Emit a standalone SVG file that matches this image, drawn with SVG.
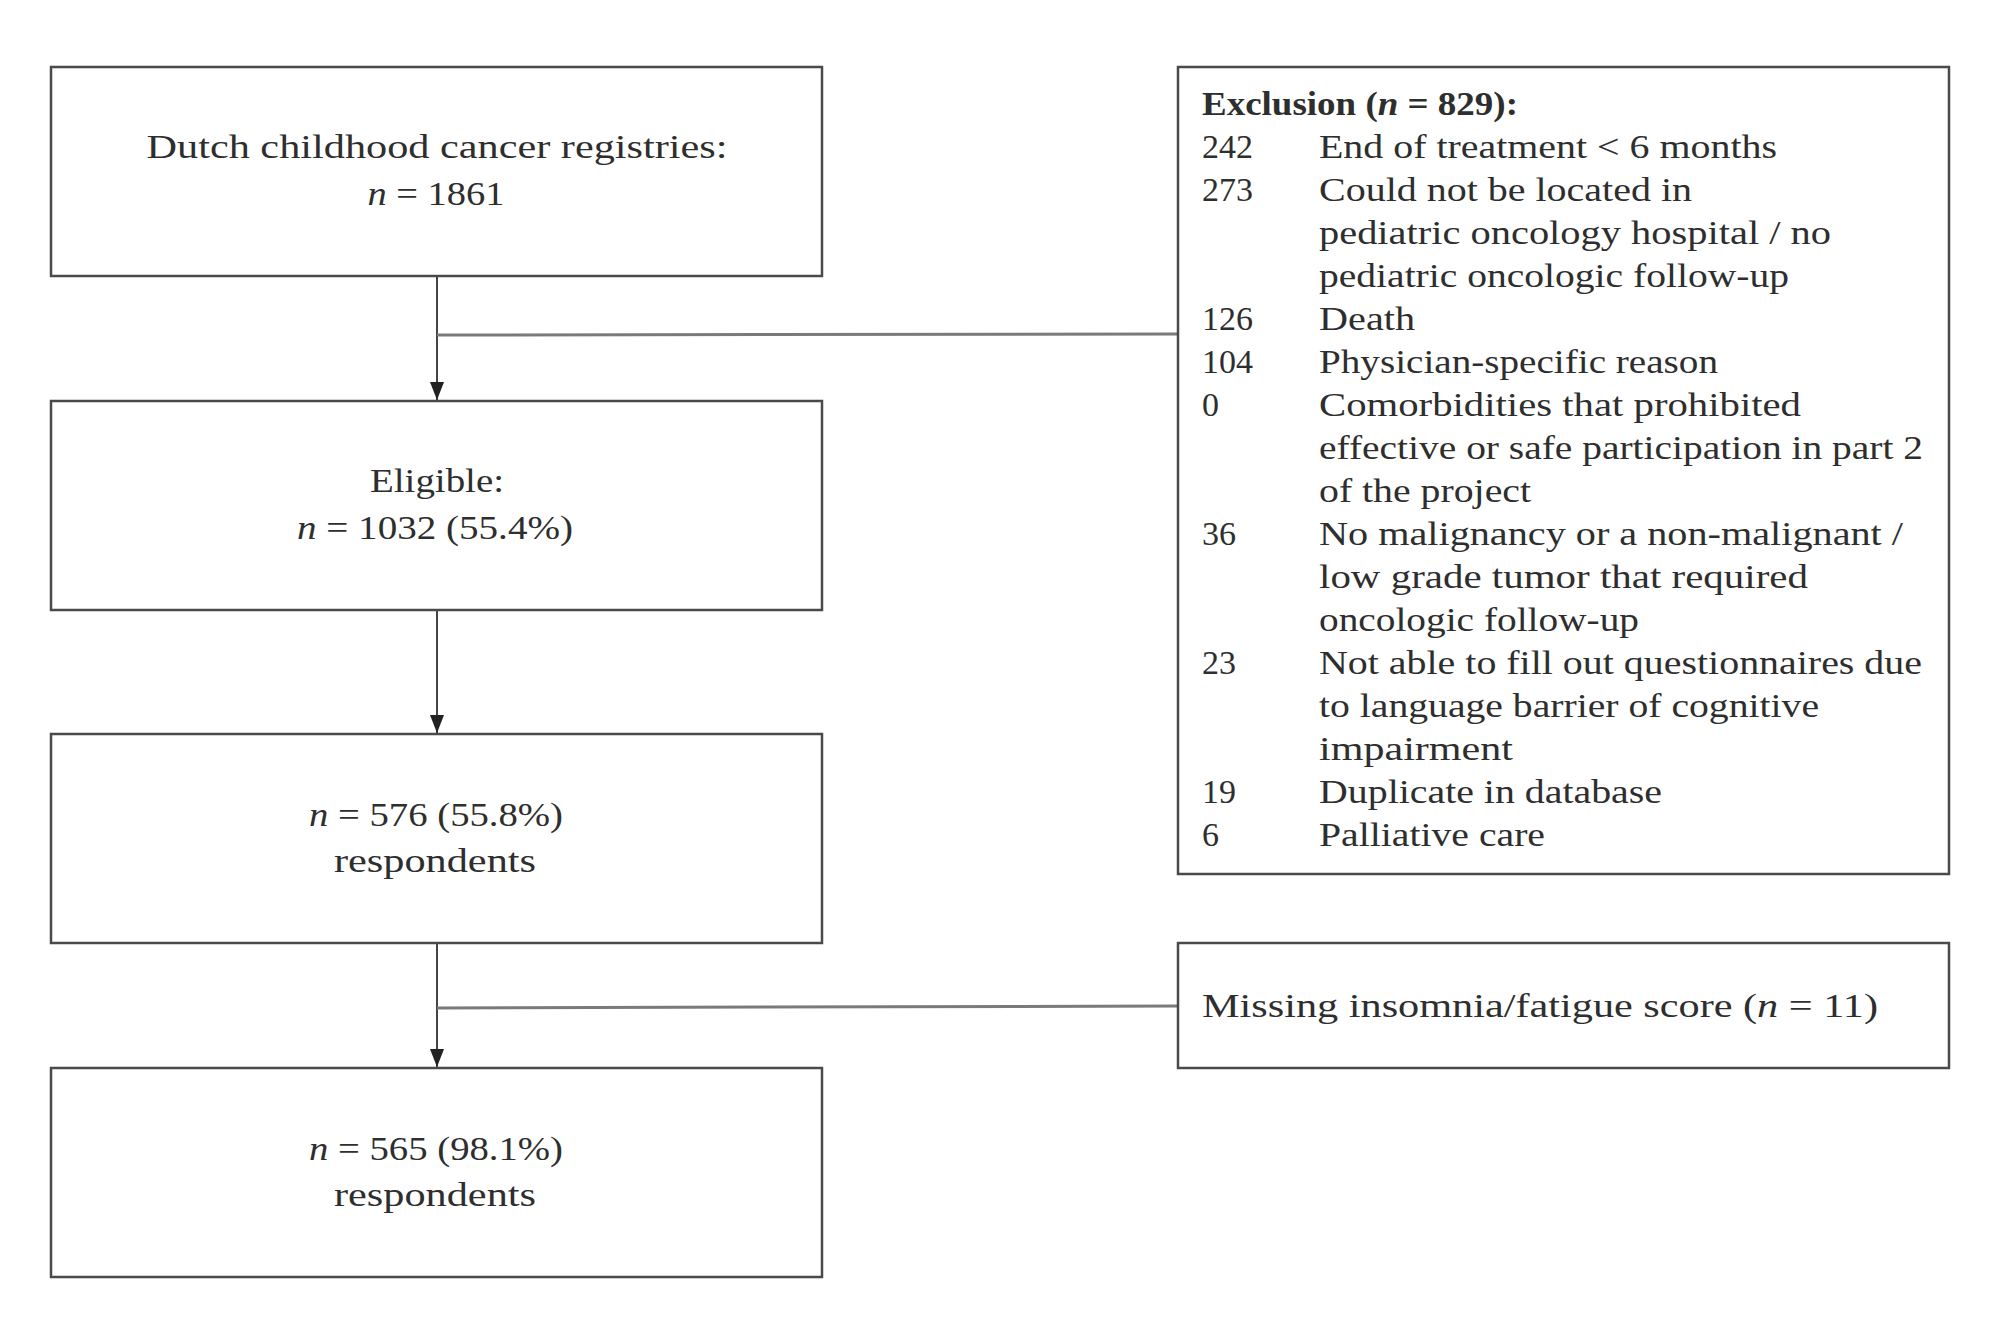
<svg xmlns="http://www.w3.org/2000/svg" width="1992" height="1329" viewBox="0 0 1992 1329">
<style>
.box{fill:#fff;stroke:#4a4a4a;stroke-width:2.5}
.t{font-family:"Liberation Serif","Times New Roman",serif;font-size:34px;fill:#2e2e2e}
.c{text-anchor:middle}
.b{font-weight:bold}
.i{font-style:italic}
.conn{stroke:#444;stroke-width:2;fill:none}
.side{stroke:#7a7a7a;stroke-width:3;fill:none}
</style>
<defs>
<marker id="ah" viewBox="0 0 18 14" refX="18" refY="7" markerWidth="18" markerHeight="14" markerUnits="userSpaceOnUse" orient="auto">
<path d="M0,0 L18,7 L0,14 z" fill="#222"/>
</marker>
</defs>
<rect width="1992" height="1329" fill="#fff"/>
<g id="connectors">
<line class="conn" x1="437" y1="276" x2="437" y2="400" marker-end="url(#ah)"/>
<line class="side" x1="437" y1="335" x2="1178" y2="334"/>
<line class="conn" x1="437" y1="610" x2="437" y2="733" marker-end="url(#ah)"/>
<line class="conn" x1="437" y1="943" x2="437" y2="1067" marker-end="url(#ah)"/>
<line class="side" x1="437" y1="1008" x2="1178" y2="1006"/>
</g>
<g id="registries">
<rect class="box" x="51" y="67" width="771" height="209"/>
<text class="t c" x="437" y="158" textLength="581" lengthAdjust="spacingAndGlyphs">Dutch childhood  cancer registries:</text>
<text class="t c" x="436" y="205" textLength="137" lengthAdjust="spacingAndGlyphs"><tspan class="i">n</tspan> = 1861</text>
</g>
<g id="eligible">
<rect class="box" x="51" y="401" width="771" height="209"/>
<text class="t c" x="437" y="492" textLength="134" lengthAdjust="spacingAndGlyphs">Eligible:</text>
<text class="t c" x="435" y="539" textLength="276" lengthAdjust="spacingAndGlyphs"><tspan class="i">n</tspan> = 1032 (55.4%)</text>
</g>
<g id="respondents576">
<rect class="box" x="51" y="734" width="771" height="209"/>
<text class="t c" x="436" y="826" textLength="254" lengthAdjust="spacingAndGlyphs"><tspan class="i">n</tspan> = 576 (55.8%)</text>
<text class="t c" x="435" y="872" textLength="202" lengthAdjust="spacingAndGlyphs">respondents</text>
</g>
<g id="respondents565">
<rect class="box" x="51" y="1068" width="771" height="209"/>
<text class="t c" x="436" y="1160" textLength="254" lengthAdjust="spacingAndGlyphs"><tspan class="i">n</tspan> = 565 (98.1%)</text>
<text class="t c" x="435" y="1206" textLength="202" lengthAdjust="spacingAndGlyphs">respondents</text>
</g>
<g id="exclusion">
<rect class="box" x="1178" y="67" width="771" height="807"/>
<text class="t b" x="1202" y="115" textLength="316" lengthAdjust="spacingAndGlyphs">Exclusion (<tspan class="i">n</tspan> = 829):</text>
<text class="t" x="1202" y="158">242</text>
<text class="t" x="1319" y="158" textLength="458" lengthAdjust="spacingAndGlyphs">End of treatment &lt; 6 months</text>
<text class="t" x="1202" y="201">273</text>
<text class="t" x="1319" y="201" textLength="373" lengthAdjust="spacingAndGlyphs">Could not be located in</text>
<text class="t" x="1319" y="244" textLength="512" lengthAdjust="spacingAndGlyphs">pediatric oncology hospital / no</text>
<text class="t" x="1319" y="287" textLength="470" lengthAdjust="spacingAndGlyphs">pediatric oncologic follow-up</text>
<text class="t" x="1202" y="330">126</text>
<text class="t" x="1319" y="330" textLength="96" lengthAdjust="spacingAndGlyphs">Death</text>
<text class="t" x="1202" y="373">104</text>
<text class="t" x="1319" y="373" textLength="399" lengthAdjust="spacingAndGlyphs">Physician-specific reason</text>
<text class="t" x="1202" y="416">0</text>
<text class="t" x="1319" y="416" textLength="482" lengthAdjust="spacingAndGlyphs">Comorbidities that prohibited</text>
<text class="t" x="1319" y="459" textLength="604" lengthAdjust="spacingAndGlyphs">effective or safe participation in part 2</text>
<text class="t" x="1319" y="502" textLength="212" lengthAdjust="spacingAndGlyphs">of the project</text>
<text class="t" x="1202" y="545">36</text>
<text class="t" x="1319" y="545" textLength="584" lengthAdjust="spacingAndGlyphs">No malignancy or a non-malignant /</text>
<text class="t" x="1319" y="588" textLength="489" lengthAdjust="spacingAndGlyphs">low grade tumor that required</text>
<text class="t" x="1319" y="631" textLength="320" lengthAdjust="spacingAndGlyphs">oncologic follow-up</text>
<text class="t" x="1202" y="674">23</text>
<text class="t" x="1319" y="674" textLength="603" lengthAdjust="spacingAndGlyphs">Not able to fill out questionnaires due</text>
<text class="t" x="1319" y="717" textLength="500" lengthAdjust="spacingAndGlyphs">to language barrier of cognitive</text>
<text class="t" x="1319" y="760" textLength="194" lengthAdjust="spacingAndGlyphs">impairment</text>
<text class="t" x="1202" y="803">19</text>
<text class="t" x="1319" y="803" textLength="343" lengthAdjust="spacingAndGlyphs">Duplicate in database</text>
<text class="t" x="1202" y="846">6</text>
<text class="t" x="1319" y="846" textLength="226" lengthAdjust="spacingAndGlyphs">Palliative  care</text>
</g>
<g id="missing">
<rect class="box" x="1178" y="943" width="771" height="125"/>
<text class="t" x="1202" y="1017" textLength="676" lengthAdjust="spacingAndGlyphs">Missing  insomnia/fatigue  score  (<tspan class="i">n</tspan> = 11)</text>
</g>
</svg>
